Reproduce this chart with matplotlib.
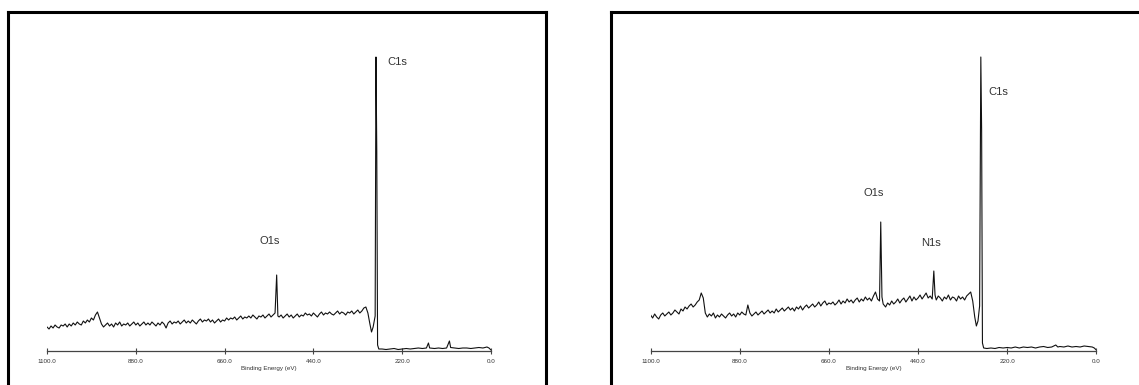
import matplotlib
matplotlib.use("Agg")
import matplotlib.pyplot as plt
from matplotlib.lines import Line2D

plt.rcParams['font.family'] = ['Liberation Sans', 'DejaVu Sans']

# survey spectrum 1: binding energy (eV) and intensity (arbitrary counts)
# background sampled every 5 eV, peaks at their own energies
be_a = ([*range(1100, 540, -5)] + [540, 535, 531, 528]
        + [*range(525, 315, -5)]
        + [315, 310, 305, 300, 296, 292, 287, 285, 283, 281, 278]
        + [270, 260, 250, 240, 230, 220, 210, 200, 190, 180, 170, 160, 155,
           152, 140, 130, 120, 110, 103, 100, 90, 80, 70, 60, 50, 40, 30, 20,
           10, 5, 0])
cps_a = [24, 22, 25, 23, 26, 24, 23, 26, 25, 27,
         24, 27, 25, 28, 26, 29, 27, 26, 30, 28,
         31, 29, 33, 31, 36, 39, 33, 27, 24, 26,
         28, 25, 27, 24, 28, 26, 29, 25, 27, 26,
         28, 25, 27, 29, 26, 28, 25, 27, 29, 26,
         28, 26, 29, 27, 25, 28, 26, 29, 27, 23,
         28, 30, 27, 29, 28, 30, 27, 29, 31, 28,
         30, 28, 31, 29, 27, 30, 32, 29, 31, 30,
         32, 29, 31, 28, 30, 32, 29, 31, 30, 33,
         31, 33, 32, 34, 31, 33, 35, 32, 34, 33,
         35, 33, 36, 34, 32, 35, 34, 36, 33, 35, 37, 34,
         36, 38, 76, 35,
         34, 36, 33, 35, 37,
         34, 36, 33, 35, 37, 34, 36, 35, 38, 36,
         37, 35, 38, 36, 34, 37, 39, 36, 38, 37,
         39, 37, 36, 38, 40, 37, 39, 38, 36, 39,
         38, 40, 37, 39, 41, 38, 40,
         43, 44, 38, 27, 19, 24, 35, 294, 200, 6, 2,
         2, 1.5, 2, 2.5, 1.5, 2, 2.5, 2, 2.5, 3, 2.5, 3, 8,
         3, 2.5, 3, 2.5, 3, 10, 3.5, 3, 2.5, 3, 3, 2.5, 3, 3.5, 3,
         4, 3, 1]

# survey spectrum 2
be_b = ([*range(1100, 540, -5)] + [540, 535, 532, 529, 526]
        + [*range(520, 400, -5)] + [401, 398]
        + [*range(395, 315, -5)]
        + [315, 310, 305, 300, 296, 292, 288, 285, 283, 281, 278]
        + [270, 260, 250, 240, 230, 220, 210, 200, 190, 180, 170, 160, 150,
           140, 130, 120, 110, 100, 95, 90, 80, 70, 60, 50, 40, 30, 20, 10,
           5, 0])
cps_b = [36, 33, 37, 34, 32, 36, 38, 35, 37, 39,
         36, 38, 41, 39, 37, 42, 40, 44, 42, 45,
         47, 44, 46, 49, 51, 58, 53, 38, 34, 37,
         35, 38, 33, 36, 34, 37, 35, 33, 36, 38,
         35, 37, 34, 38, 36, 39, 37, 36, 46, 38,
         35, 37, 39, 36, 38, 40, 37, 39, 41, 38,
         40, 38, 42, 39, 41, 43, 40, 42, 44, 41,
         43, 40, 44, 42, 45, 41, 44, 46, 43, 45,
         47, 44, 46, 49, 45, 48, 50, 46, 48, 47,
         49, 46, 48, 51, 47, 50, 48, 52, 49, 51,
         48, 51, 53, 49, 52, 50, 54, 51, 53, 50, 55, 59,
         52, 50, 129, 54, 47,
         44, 48, 46, 50, 47, 49, 52, 48, 51,
         53, 49, 52, 55, 50, 54, 51, 53,
         56, 52, 55, 58, 53, 55, 52,
         80, 56,
         51, 55, 53, 50, 54, 52, 56, 51, 54, 53, 50, 55, 52, 54, 51, 55,
         57, 59, 50, 34, 25, 30, 45, 294, 220, 8, 3,
         2.5, 3, 2.5, 3.5, 3, 3.5, 3, 4, 3, 4, 3.5, 4, 3,
         4, 4.5, 3.5, 4, 6, 4, 4.5, 4, 5, 4, 4.5, 4, 5, 4.5, 4,
         3, 1]

peaks_a = [("C1s", 233, 289), ("O1s", 549, 110)]
peaks_b = [("C1s", 243, 259), ("O1s", 549, 158), ("N1s", 409, 108)]

ticks = [1100.0, 880.0, 660.0, 440.0, 220.0, 0.0]

W, H = 1139, 385
fig = plt.figure(figsize=(W / 100, H / 100), dpi=100)


def px_box(x0, x1, y_base, y_top):
    return [x0 / W, (H - y_base) / H, (x1 - x0) / W, (y_base - y_top) / H]


def draw_frame(x0, x1, y0, right=True):
    kw = dict(transform=fig.transFigure, color="black", lw=2.2,
              solid_capstyle="projecting")
    fig.add_artist(Line2D([x0 / W, x0 / W], [1 - y0 / H, -0.05], **kw))
    fig.add_artist(Line2D([x0 / W, x1 / W], [1 - y0 / H, 1 - y0 / H], **kw))
    if right:
        fig.add_artist(Line2D([x1 / W, x1 / W], [1 - y0 / H, -0.05], **kw))


def spectrum(ax, be, cps, peaks):
    ax.plot(be, cps, color="#111111", lw=0.8)
    ax.set_xlim(1100, 0)
    ax.set_ylim(0, 311)
    for s in ["left", "right", "top"]:
        ax.spines[s].set_visible(False)
    ax.spines["bottom"].set_color("#444444")
    ax.spines["bottom"].set_linewidth(0.9)
    ax.set_yticks([])
    ax.set_xticks(ticks)
    ax.set_xticklabels(["{:.1f}".format(t) for t in ticks])
    ax.tick_params(axis="x", direction="inout", length=5, width=0.8,
                   color="#444444", labelsize=4.5, labelcolor="#333333", pad=3)
    ax.set_xlabel("Binding Energy (eV)", fontsize=4.5, color="#333333",
                  labelpad=1.5)
    ax.patch.set_alpha(0)
    for name, x, y in peaks:
        ax.text(x, y, name, fontsize=8, color="#333333",
                ha="center", va="center")


ax1 = fig.add_axes(px_box(47, 491, 351, 40))
spectrum(ax1, be_a, cps_a, peaks_a)

ax2 = fig.add_axes(px_box(650.6, 1096.3, 351, 40))
spectrum(ax2, be_b, cps_b, peaks_b)

draw_frame(7.5, 546, 11.5)
draw_frame(611, 1160, 11.5, right=False)

fig.savefig("out.png", dpi=100)
